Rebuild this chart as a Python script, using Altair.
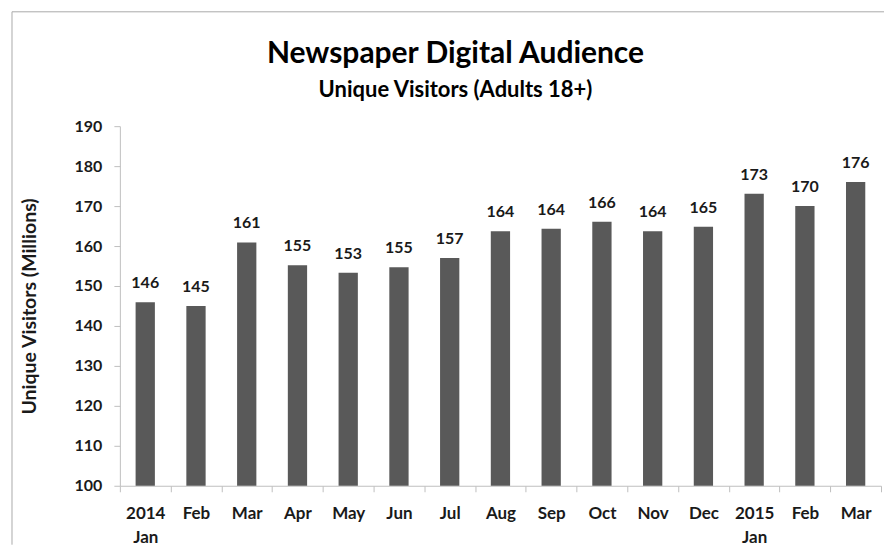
import altair as alt
import pandas as pd

# ---- data ----
month_labels = ["2014|Jan", "Feb", "Mar", "Apr", "May", "Jun", "Jul", "Aug",
                "Sep", "Oct", "Nov", "Dec", "2015|Jan", "Feb", "Mar"]
visitors = [145.9, 145.0, 160.9, 155.2, 153.3, 154.7, 157.0, 163.7,
            164.3, 166.1, 163.7, 164.8, 173.1, 170.0, 176.0]
visitor_labels = [146, 145, 161, 155, 153, 155, 157, 164,
                  164, 166, 164, 165, 173, 170, 176]
y_ticks = [100, 110, 120, 130, 140, 150, 160, 170, 180, 190]
y_min, y_max = 100, 190

df = pd.DataFrame({
    "idx": list(range(len(month_labels))),
    "value": visitors,
    "label": visitor_labels,
})

FONT = "Lato"
W, H = 762, 360
TXT = "#1a1a1a"
AXC = "#bfbfbf"

label_expr = "[" + ",".join(
    "[" + ",".join("'%s'" % p for p in lab.split("|")) + "]" for lab in month_labels
) + "][datum.value]"

x_enc = alt.X(
    "idx:O",
    scale=alt.Scale(paddingInner=0, paddingOuter=0),
    axis=alt.Axis(
        title=None, labelExpr=label_expr, labelAngle=0, tickBand="extent",
        domainColor=AXC, tickColor=AXC, tickSize=6, labelPadding=14,
        labelFont=FONT, labelFontSize=17, labelFontWeight="bold",
        labelColor=TXT, labelLineHeight=24, labelBaseline="top",
    ),
)
y_enc = alt.Y(
    "value:Q",
    scale=alt.Scale(domain=[y_min, y_max], nice=False, zero=False),
    axis=alt.Axis(
        values=y_ticks, grid=False, title="Unique Visitors (Millions)",
        domainColor=AXC, tickColor=AXC, tickSize=6, labelPadding=12,
        labelFont=FONT, labelFontSize=16, labelFontWeight="bold", labelColor=TXT,
        titleFont=FONT, titleFontSize=19.5, titleFontWeight="bold", titleColor=TXT,
        titleAngle=-90, titleX=-90, titleY=H / 2, titleBaseline="middle",
        titleAlign="center",
    ),
)

base = alt.Chart(df)
bars = base.mark_bar(color="#595959", width=alt.RelativeBandSize(0.38)).encode(
    x=x_enc, y=y_enc, y2=alt.datum(y_min)
)
texts = base.mark_text(
    baseline="alphabetic", dy=-14, font=FONT, fontSize=16, fontWeight="bold", color=TXT
).encode(x=x_enc, y=y_enc, text=alt.Text("label:Q", format="d"))

frame_data = alt.Data(values=[{}])
frame_top = alt.Chart(frame_data).mark_rule(color="#aaaaaa", strokeWidth=1).encode(
    x=alt.value(-108), x2=alt.value(W + 3), y=alt.value(-114.5)
)
frame_left = alt.Chart(frame_data).mark_rule(color="#aaaaaa", strokeWidth=1).encode(
    x=alt.value(-108), y=alt.value(-114.5), y2=alt.value(H + 59)
)

chart = alt.layer(bars, texts, frame_top, frame_left).properties(
    width=W,
    height=H,
    padding={"left": 3, "top": 3, "right": 0, "bottom": 0},
    title=alt.TitleParams(
        text="Newspaper Digital Audience",
        subtitle="Unique Visitors (Adults 18+)",
        font=FONT, fontSize=30, fontWeight="bold", color="#000000",
        subtitleFont=FONT, subtitleFontSize=22, subtitleFontWeight="bold",
        subtitleColor="#000000", subtitlePadding=11,
        anchor="middle", frame="group", dx=-45, offset=-90,
    ),
).configure_view(stroke=None)

chart.save("out.html", embed_options={"renderer": "svg", "actions": False})
